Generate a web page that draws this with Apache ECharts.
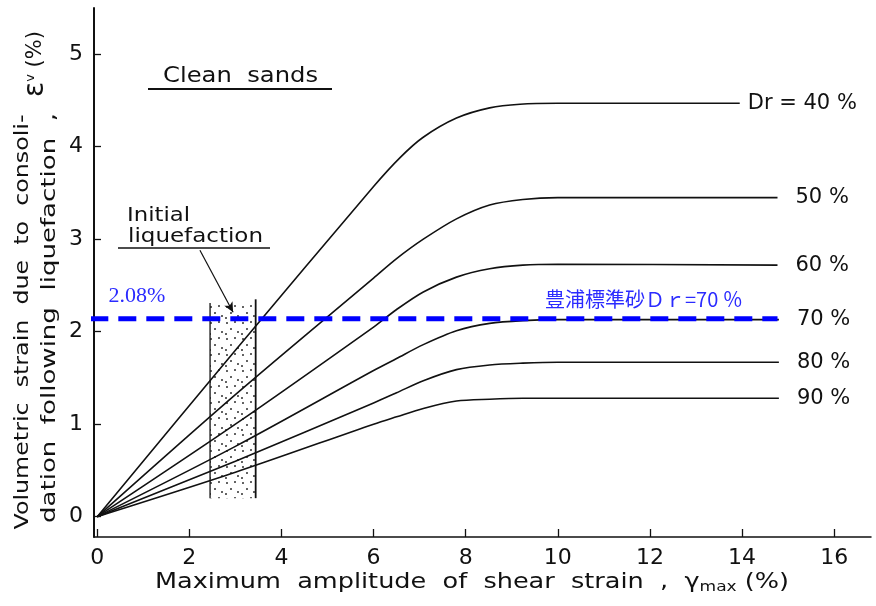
<!DOCTYPE html>
<html>
<head>
<meta charset="utf-8">
<script src="https://cdn.jsdelivr.net/npm/echarts@6/dist/echarts.min.js"></script>
<style>html,body{margin:0;padding:0;background:#fff}#c{width:876px;height:606px}</style>
</head>
<body>
<div id="c"></div>
<script>
// ---- data ----
const xTicks = [0, 2, 4, 6, 8, 10, 12, 14, 16];
const yTicks = [0, 1, 2, 3, 4, 5];
const curveNames = ['Dr = 40 %', '50 %', '60 %', '70 %', '80 %', '90 %'];
const dr40 = [[0,0],[3,1.8],[6,3.57],[6.57,3.88],[7.07,4.10],[7.8,4.31],[8.52,4.42],[9.18,4.46],[10,4.47],[13.95,4.47]];
const dr50 = [[0,0],[3,1.32],[6,2.58],[6.5,2.79],[7.08,3.0],[7.8,3.22],[8.52,3.37],[9.24,3.43],[10,3.45],[14.77,3.45]];
const dr60 = [[0,0],[3,1.0],[6,2.05],[6.5,2.24],[7.08,2.43],[7.8,2.59],[8.52,2.68],[9.24,2.72],[10,2.73],[14.77,2.72]];
const dr70 = [[0,0],[3,0.76],[6,1.58],[6.5,1.71],[7.08,1.86],[7.8,2.01],[8.52,2.09],[9.24,2.12],[10,2.13],[14.8,2.13]];
const dr80 = [[0,0],[3,0.6],[6,1.23],[6.5,1.34],[7.08,1.47],[7.8,1.59],[8.52,1.64],[9.24,1.66],[10,1.67],[14.8,1.67]];
const dr90 = [[0,0],[3,0.48],[6,1.0],[6.5,1.08],[7.08,1.17],[7.8,1.25],[8.52,1.27],[9.24,1.28],[10,1.28],[14.8,1.28]];
const curves = [dr40, dr50, dr60, dr70, dr80, dr90];
const refLevel = 2.14;           // blue dashed line
const refRange = [-0.15, 14.77];
const refLabel = '2.08%';
const refNote = '豊浦標準砂Ｄｒ=70 ％';
const bandX = [2.45, 3.44];       // initial liquefaction band
const bandBottom = 0.2;
const bandTop = [2.31, 2.35];
const arrowFrom = [2.23, 2.88];
const arrowTo = [2.95, 2.21];

// ---- styles ----
const FONT = '"DejaVu Sans", sans-serif';
const INK = '#111';

const mc = document.createElement('canvas').getContext('2d');
function tw(text, size) { mc.font = size + 'px "DejaVu Sans"'; return mc.measureText(text).width; }

// stipple pattern
const pc = document.createElement('canvas');
pc.width = 16; pc.height = 16;
const g = pc.getContext('2d');
g.fillStyle = '#222';
[[3,3],[11,2],[7,9],[14,12],[2,14]].forEach(p => { g.beginPath(); g.arc(p[0], p[1], 0.95, 0, Math.PI*2); g.fill(); });

const chart = echarts.init(document.getElementById('c'), null, {renderer: 'canvas'});

const endDist = [8, 18, 18, 18, 18, 18];
const series = curves.map((d, i) => ({
  type: 'line', data: d, smooth: 0.3, showSymbol: false, symbol: 'none',
  lineStyle: {color: INK, width: 1.6}, z: 3,
  endLabel: {show: true, formatter: curveNames[i], distance: endDist[i], color: INK, fontSize: 21, fontFamily: FONT},
  emphasis: {disabled: true}
}));

series.push({
  type: 'line', data: [[bandX[0], bandBottom], [bandX[0], bandTop[0]]], symbol: 'none',
  lineStyle: {color: INK, width: 1.3}, z: 3,
  markArea: {silent: true, itemStyle: {color: {image: pc, repeat: 'repeat'}},
    data: [[{coord: [bandX[0], bandBottom]}, {coord: [bandX[1], bandTop[0]]}]]}
});
series.push({
  type: 'line', data: [[bandX[1], bandBottom], [bandX[1], bandTop[1]]], symbol: 'none',
  lineStyle: {color: INK, width: 1.8}, z: 3,
  markLine: {silent: true, symbol: ['none', 'arrow'], symbolSize: [7, 10],
    lineStyle: {color: INK, width: 1.2, type: 'solid', curveness: 0.08}, label: {show: false},
    data: [[{coord: arrowFrom}, {coord: arrowTo}]]}
});
series.push({
  type: 'line', data: [[refRange[0], refLevel], [refRange[1], refLevel]], symbol: 'none', clip: false,
  lineStyle: {color: '#0000ff', width: 5, type: [18, 10]}, z: 10
});

// fitted texts
function fit(text, size, target) { return target / tw(text, size); }
const y1 = 'Volumetric  strain  due  to  consoli-';
const y2 = 'dation  following  liquefaction  ,';
const xa = 'Maximum  amplitude  of  shear  strain  ,  γ';
const xb = 'max';
const xc = ' (%)';
const xW = tw(xa, 21) + tw(xb, 14) + tw(xc, 21);

chart.setOption({
  animation: false,
  grid: {left: 94, right: 5, top: 8, bottom: 69},
  xAxis: {
    type: 'value', min: -0.07, max: 16.8,
    axisLine: {onZero: false, lineStyle: {color: INK, width: 1.5}},
    axisTick: {inside: true, length: 8, customValues: xTicks, lineStyle: {color: INK, width: 1.3}},
    axisLabel: {customValues: xTicks, margin: 10, fontSize: 22, color: INK, fontFamily: FONT},
    splitLine: {show: false}
  },
  yAxis: {
    type: 'value', min: -0.22, max: 5.5,
    axisLine: {show: true, onZero: false, lineStyle: {color: INK, width: 2}},
    axisTick: {show: true, inside: true, length: 7, customValues: yTicks, lineStyle: {color: INK, width: 1.3}},
    axisLabel: {customValues: yTicks, margin: 11, fontSize: 22, color: INK, fontFamily: FONT},
    splitLine: {show: false}
  },
  graphic: [
    {type: 'text', x: 23, y: 322, rotation: Math.PI/2, scaleX: fit(y1, 20, 415), style: {text: y1, fontSize: 20, fontFamily: FONT, fill: INK, align: 'center', verticalAlign: 'middle'}},
    {type: 'text', x: 50, y: 318, rotation: Math.PI/2, scaleX: fit(y2, 20, 410), style: {text: y2, fontSize: 20, fontFamily: FONT, fill: INK, align: 'center', verticalAlign: 'middle'}},
    {type: 'text', x: 36, y: 64, rotation: Math.PI/2, style: {text: '{e|ε}{v|v}{p| (%)}', align: 'center', verticalAlign: 'middle',
      rich: {e: {fontSize: 28, fontFamily: FONT, fill: INK}, v: {fontSize: 13, fontFamily: FONT, fill: INK, padding: [0,0,10,0]}, p: {fontSize: 21, fontFamily: FONT, fill: INK}}}},
    {type: 'text', x: 472, y: 583, scaleX: 634 / xW, style: {text: '{a|' + xa + '}{b|' + xb + '}{a|' + xc + '}', align: 'center', verticalAlign: 'middle',
      rich: {a: {fontSize: 21, fontFamily: FONT, fill: INK}, b: {fontSize: 14, fontFamily: FONT, fill: INK, padding: [8, 0, 0, 0]}}}},
    {type: 'text', x: 163, y: 77, scaleX: fit('Clean  sands', 21, 155), style: {text: 'Clean  sands', fontSize: 21, fontFamily: FONT, fill: INK, align: 'left', verticalAlign: 'middle'}},
    {type: 'line', shape: {x1: 148, y1: 89, x2: 332, y2: 89}, style: {stroke: INK, lineWidth: 2.2}},
    {type: 'text', x: 127, y: 216, scaleX: fit('Initial', 20, 63), style: {text: 'Initial', fontSize: 20, fontFamily: FONT, fill: INK, align: 'left', verticalAlign: 'middle'}},
    {type: 'text', x: 128, y: 237, scaleX: fit('liquefaction', 20, 135), style: {text: 'liquefaction', fontSize: 20, fontFamily: FONT, fill: INK, align: 'left', verticalAlign: 'middle'}},
    {type: 'line', shape: {x1: 118, y1: 248, x2: 270, y2: 248}, style: {stroke: INK, lineWidth: 1.5}},
    {type: 'text', x: 137, y: 296, style: {text: refLabel, fontSize: 22, fontFamily: '"Liberation Serif", serif', fill: '#2b2bff', align: 'center', verticalAlign: 'middle'}},
    {type: 'text', x: 545, y: 299, scaleX: 1.0, style: {text: refNote, fontSize: 20, fontFamily: '"Noto Sans CJK JP", "Liberation Serif", serif', fill: '#2b2bff', align: 'left', verticalAlign: 'middle'}}
  ],
  series: series
});
</script>
</body>
</html>
